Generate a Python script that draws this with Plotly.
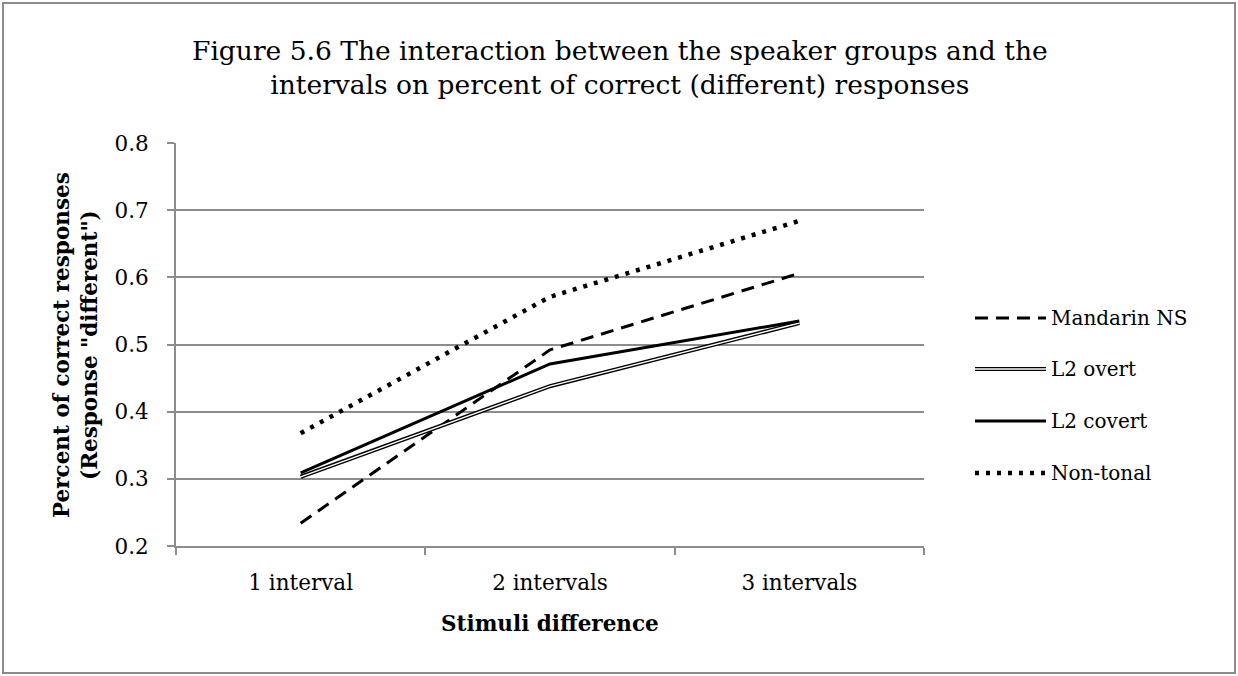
import plotly.graph_objects as go

categories = ["1 interval", "2 intervals", "3 intervals"]
mandarin_ns = [0.234, 0.492, 0.606]
l2_overt = [0.303, 0.438, 0.532]
l2_covert = [0.309, 0.471, 0.535]
non_tonal = [0.368, 0.571, 0.684]
series_names = ["Mandarin NS", "L2 overt", "L2 covert", "Non-tonal"]
y_ticks = [0.2, 0.3, 0.4, 0.5, 0.6, 0.7, 0.8]

FONT = "DejaVu Serif"
W, H = 1238, 676
L, R, T, B = 176, 314, 143, 130
PW, PH = W - L - R, H - T - B

def px_x(x):
    return (x - L) / PW

def px_y(y):
    return (H - B - y) / PH

fig = go.Figure()
fig.add_trace(go.Scatter(x=categories, y=mandarin_ns, mode="lines",
                         line=dict(color="black", width=3, dash="13px,8px"), showlegend=False))
fig.add_trace(go.Scatter(x=categories, y=l2_overt, mode="lines",
                         line=dict(color="black", width=4.2), showlegend=False))
fig.add_trace(go.Scatter(x=categories, y=l2_overt, mode="lines",
                         line=dict(color="white", width=1.4), showlegend=False))
fig.add_trace(go.Scatter(x=categories, y=l2_covert, mode="lines",
                         line=dict(color="black", width=3), showlegend=False))
fig.add_trace(go.Scatter(x=categories, y=non_tonal, mode="lines",
                         line=dict(color="black", width=4.5, dash="4px,7px"), showlegend=False))

shapes = []
# outer border
shapes.append(dict(type="rect", xref="paper", yref="paper",
                   x0=px_x(3), x1=px_x(1235), y0=px_y(673), y1=px_y(3),
                   line=dict(color="#8c8c8c", width=2), layer="below"))
annotations = []
# manual legend
leg_y = [318, 369, 421, 473]
leg_styles = [
    [dict(color="black", width=3, dash="13px,8px")],
    [dict(color="black", width=4.2), dict(color="white", width=1.4)],
    [dict(color="black", width=3)],
    [dict(color="black", width=4.5, dash="4px,7px")],
]
for name, yy, styles in zip(series_names, leg_y, leg_styles):
    for st in styles:
        shapes.append(dict(type="line", xref="paper", yref="paper",
                           x0=px_x(975), x1=px_x(1046), y0=px_y(yy), y1=px_y(yy),
                           line=st))
    annotations.append(dict(xref="paper", yref="paper", x=px_x(1049), y=px_y(yy),
                            text=name, showarrow=False, xanchor="left", yanchor="middle",
                            font=dict(family=FONT, size=20, color="black")))

annotations.append(dict(xref="paper", yref="paper", x=px_x(75), y=px_y(345),
                        text="<b>Percent of correct responses<br>(Response \"different\")</b>",
                        textangle=-90, showarrow=False, xanchor="center", yanchor="middle",
                        font=dict(family=FONT, size=21.5, color="black")))
annotations.append(dict(xref="paper", yref="paper", x=px_x(550), y=px_y(623),
                        text="<b>Stimuli difference</b>", showarrow=False,
                        xanchor="center", yanchor="middle",
                        font=dict(family=FONT, size=21.5, color="black")))
annotations.append(dict(xref="paper", yref="paper", x=px_x(620), y=px_y(68),
                        text="Figure 5.6 The interaction between the speaker groups and the<br>intervals on percent of correct (different) responses",
                        showarrow=False, xanchor="center", yanchor="middle",
                        font=dict(family=FONT, size=26.5, color="black")))

fig.update_layout(
    width=W, height=H,
    margin=dict(l=L, r=R, t=T, b=B, autoexpand=False),
    paper_bgcolor="white", plot_bgcolor="white",
    shapes=shapes, annotations=annotations,
    showlegend=False,
    font=dict(family=FONT, size=21, color="black"),
)
fig.update_xaxes(type="category", range=[-0.5, 2.5], showgrid=False,
                 showline=True, linecolor="#8c8c8c", linewidth=2,
                 ticks="outside", tickson="boundaries", ticklen=7, tickcolor="#8c8c8c", tickwidth=2,
                 ticklabelstandoff=16,
                 tickfont=dict(family=FONT, size=21.5, color="black"))
fig.update_yaxes(range=[0.2, 0.8], tickvals=y_ticks, ticktext=[f"{v:.1f}" for v in y_ticks],
                 showgrid=True, gridcolor="#8c8c8c", gridwidth=2,
                 showline=True, linecolor="#8c8c8c", linewidth=2, zeroline=False,
                 ticks="outside", ticklen=7, tickcolor="#8c8c8c", tickwidth=2,
                 ticklabelstandoff=14,
                 tickfont=dict(family=FONT, size=21.5, color="black"))

fig.write_html("out.html", config={"displayModeBar": False},
               post_script="document.body.style.margin='0';document.body.style.overflow='hidden';")
